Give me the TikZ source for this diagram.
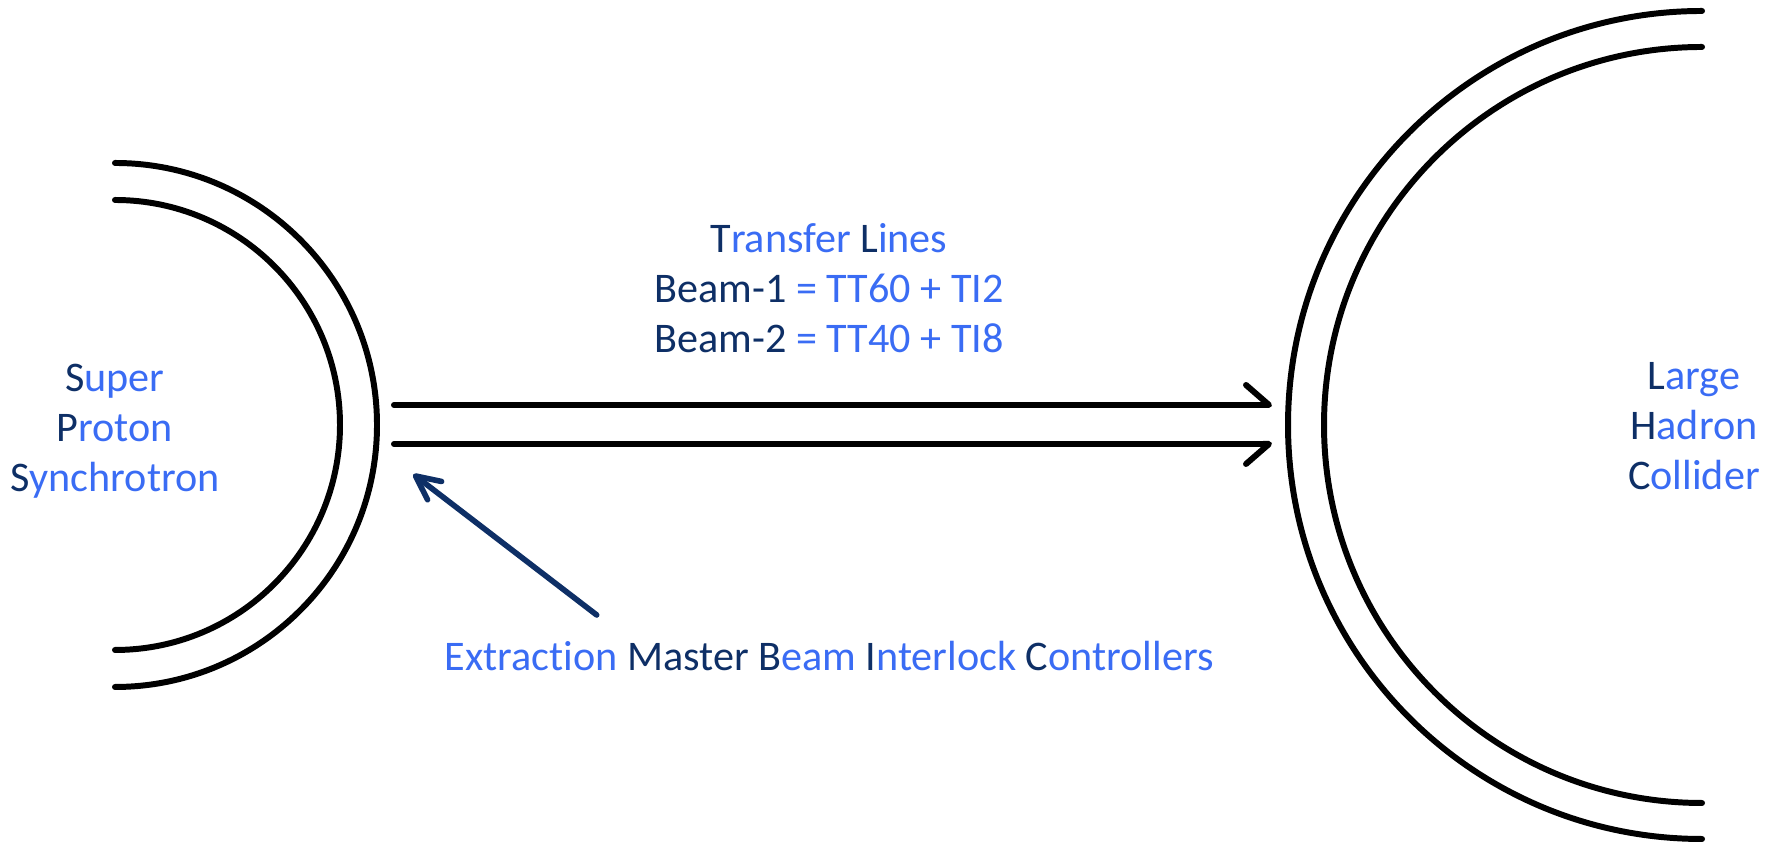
\documentclass[tikz,border=0pt]{standalone}
\usepackage{fontspec}
\setmainfont{Carlito}[Ligatures=NoCommon]
\usetikzlibrary{arrows.meta, positioning, calc}
\definecolor{Navy}{HTML}{0E2F66}
\definecolor{Sky} {HTML}{3A6CF4}
\newcommand{\lead}[2]{\textcolor{Navy}{#1}\textcolor{Sky}{#2}}

\begin{document}
\begin{tikzpicture}[
  every node/.style={font=\fontsize{12}{14.2}\selectfont, align=center, inner sep=0pt},
  ring/.style={draw=black, line width=1.7pt, line cap=round},
  beamline/.style={draw=black, line width=1.7pt, line cap=round},
  upbarb/.style={beamline, -{Straight Barb[harpoon, round, length=2.3mm, width=4mm]}},
  lowbarb/.style={beamline, -{Straight Barb[harpoon, swap, round, length=2.3mm, width=4mm]}},
  ctrl/.style={draw=Navy, line width=1.6pt, line cap=round,
               -{Straight Barb[round, length=2.4mm, width=2.3mm]}},
]
  \useasboundingbox (0,0) rectangle (17.79,8.44);
  \coordinate (spsc) at (1.15,4.19);
  \coordinate (lhcc) at (17.02,4.19);

  % rings
  \draw[ring] ([shift={(90:2.62)}]spsc) arc[start angle=90, end angle=-90, radius=2.62];
  \draw[ring] ([shift={(90:2.25)}]spsc) arc[start angle=90, end angle=-90, radius=2.25];
  \draw[ring] ([shift={(90:4.14)}]lhcc) arc[start angle=90, end angle=270, radius=4.14];
  \draw[ring] ([shift={(90:3.78)}]lhcc) arc[start angle=90, end angle=270, radius=3.78];

  \node (sps) at (1.15,4.13) {\lead{S}{uper}\\\lead{P}{roton}\\\lead{S}{ynchrotron}};
  \node (lhc) at (16.94,4.18) {\lead{L}{arge}\\\lead{H}{adron}\\\lead{C}{ollider}};
  \node (tl) at (8.29,5.56)
    {\lead{T}{ransfer} \lead{L}{ines}\\
     \textcolor{Navy}{Beam-1} \textcolor{Sky}{= TT60 + TI2}\\
     \textcolor{Navy}{Beam-2} \textcolor{Sky}{= TT40 + TI8}};
  \node (embic) at (8.29,1.875)
    {\textcolor{Sky}{Extraction} \textcolor{Navy}{Master} \lead{B}{eam} \lead{I}{nterlock} \lead{C}{ontrollers}};

  % transfer lines
  \coordinate (tlAs) at (3.94,4.39);
  \coordinate (tlAe) at (12.72,4.39);
  \coordinate (tlBs) at (3.94,4.00);
  \coordinate (tlBe) at (12.72,4.00);
  \draw[upbarb]  (tlAs) -- (tlAe);
  \draw[lowbarb] (tlBs) -- (tlBe);

  % interlock pointer
  \coordinate (ctrltail) at (5.967,2.29);
  \coordinate (ctrltip)  at (4.133,3.697);
  \draw[ctrl] (ctrltail) -- (ctrltip);
\end{tikzpicture}
\end{document}
